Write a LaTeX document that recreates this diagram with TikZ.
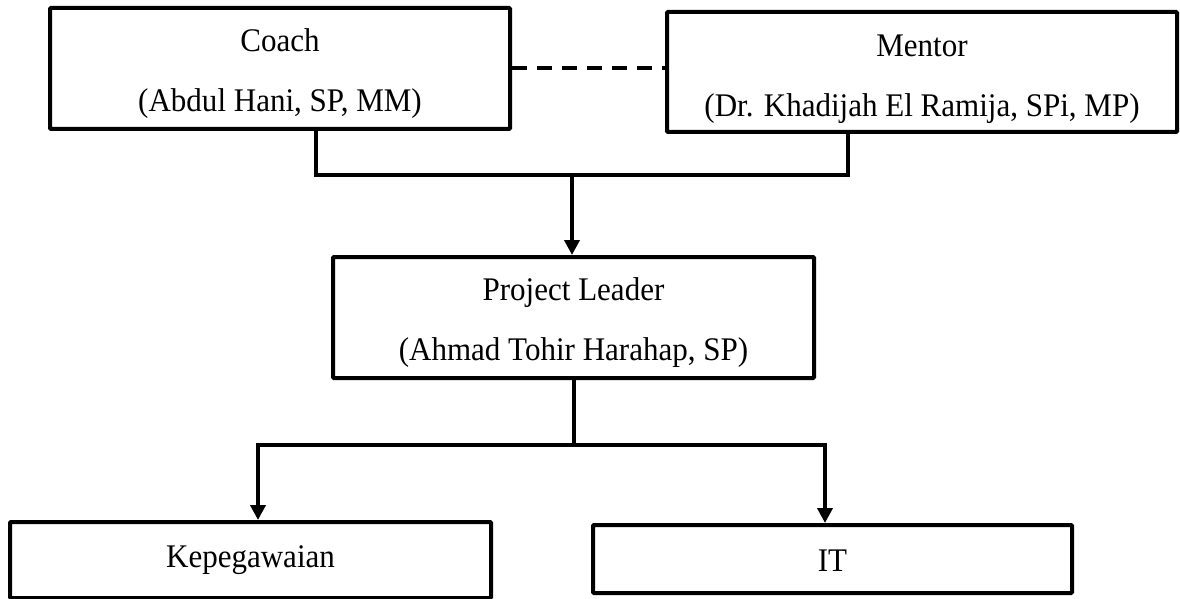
\documentclass[tikz,border=0pt]{standalone}
\usepackage{fontspec}
\setmainfont[FakeStretch=0.94]{Liberation Serif}
\usetikzlibrary{arrows.meta,calc}

\begin{document}
\begin{tikzpicture}[x=1pt,y=-1pt,
  box/.style={draw=black, line width=4pt, rounded corners=1pt, rectangle,
    inner sep=0pt},
  txt/.style={inner sep=0pt, align=center, font=\fontsize{33}{60}\selectfont},
  link/.style={draw=black, line width=4pt, line join=miter},
  arr/.style={link, -{Triangle[length=15pt,width=15pt]}},
  relation/.style={draw=black, line width=4pt, dash pattern=on 15pt off 10pt}]

  \useasboundingbox (0,0) rectangle (1180,599);

  % boxes of the organisation chart
  \node[box, minimum width=460pt, minimum height=121pt] (coach) at (280,68.5) {};
  \node[box, minimum width=510pt, minimum height=120pt] (mentor) at (922,72) {};
  \node[box, minimum width=481pt, minimum height=121pt] (pl) at (573.5,317.5) {};
  \node[box, minimum width=481pt, minimum height=76pt] (kep) at (250.5,560) {};
  \node[box, minimum width=479pt, minimum height=68pt] (it) at (832.5,559) {};

  % their texts
  \node[txt] (coachtxt) at ([yshift=-5pt]coach.center) {Coach\\(Abdul Hani, SP, MM)};
  \node[txt] (mentortxt) at ([yshift=-7pt]mentor.center) {Mentor\\(Dr. Khadijah El Ramija, SPi, MP)};
  \node[txt] (pltxt) at ([yshift=-5pt]pl.center) {Project Leader\\(Ahmad Tohir Harahap, SP)};
  \node[txt] (keptxt) at ([yshift=0pt]kep.center) {Kepegawaian};
  \node[txt] (ittxt) at ([yshift=-2pt]it.center) {IT};

  % junction points of the connectors
  \coordinate (top) at (572,175);
  \coordinate (bot) at (573.5,445);

  % coach and mentor
  \draw[relation] (coach.east) -- (coach.east -| mentor.west);
  \draw[link] ([xshift=36pt]coach.south) |- (top);
  \draw[link] ([xshift=-74pt]mentor.south) |- (top);
  \draw[arr] (top) -- (top |- pl.north);

  % project leader to the units
  \draw[link] (pl.south) -- (bot);
  \draw[arr] (bot) -| ([xshift=7.5pt]kep.north);
  \draw[arr] (bot) -| ([xshift=-7.5pt]it.north);
\end{tikzpicture}
\end{document}
